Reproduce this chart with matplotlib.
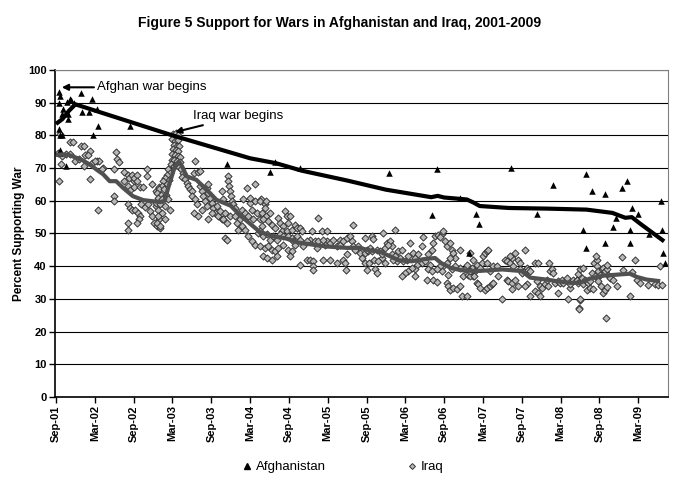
import matplotlib
matplotlib.use("Agg")
import matplotlib.pyplot as plt
from matplotlib.lines import Line2D

plt.rcParams['font.family'] = ['Liberation Sans', 'DejaVu Sans']

# x = months since Sep 2001, y = percent supporting war
tick_labels = ['Sep-01', 'Mar-02', 'Sep-02', 'Mar-03', 'Sep-03', 'Mar-04', 'Sep-04', 'Mar-05',
               'Sep-05', 'Mar-06', 'Sep-06', 'Mar-07', 'Sep-07', 'Mar-08', 'Sep-08', 'Mar-09']
tick_months = [0, 6, 12, 18, 24, 30, 36, 42, 48, 54, 60, 66, 72, 78, 84, 90]

# Afghanistan polls
afg_polls = [
    (0.4, 93.4), (0.6, 92.0), (0.5, 90.0), (1.65, 90.1), (1.1, 88.1), (1.0, 86.4), (1.9, 86.4),
    (1.9, 84.9), (0.5, 81.8), (0.7, 80.0), (0.9, 80.0), (0.6, 75.6), (0.6, 74.5), (1.5, 70.6),
    (2.2, 91.2), (2.4, 90.8), (2.8, 90.0), (3.8, 93.1), (4.1, 87.1), (5.1, 87.1), (5.6, 91.0),
    (5.8, 80.0), (6.4, 88.0), (6.5, 82.9), (11.4, 82.8), (26.5, 71.1),
    (33.8, 71.8), (33.1, 68.8), (37.7, 70.0), (51.4, 68.5), (58.9, 69.7), (58.2, 55.8),
    (62.4, 60.8), (65.0, 55.9), (65.4, 53.0), (63.8, 44.1), (70.3, 69.9), (74.4, 55.9),
    (76.9, 64.8), (81.9, 68.2), (81.5, 51.0), (82.0, 45.6), (82.8, 62.9), (84.9, 62.0),
    (84.9, 47.0), (86.6, 54.7), (86.1, 51.9), (87.5, 63.9), (88.2, 65.9), (88.7, 51.0),
    (88.7, 47.0), (89.1, 57.7), (90.0, 55.9), (91.6, 49.9), (93.5, 59.9), (93.7, 51.0),
    (93.8, 43.9), (94.2, 41.0),
]

afg_trend_m = [0, 1, 2, 3, 18, 30, 34, 38, 45, 51, 58, 59, 60, 63.5, 64.5, 65.5, 70, 76, 82, 86, 88, 89, 90.3, 94]
afg_trend_v = [83.5, 85, 87.5, 89.5, 80, 73, 71.5, 69.2, 66.2, 63.4, 61.1, 61.5, 61, 60.4, 59.5, 58.4,
               57.8, 57.6, 57.3, 56.3, 54.8, 55, 53, 47.6]

# Iraq polls, by period
iraq_2001_02 = [
    (0.3, 74.5), (0.6, 80.5), (1.0, 73.8), (1.5, 74.2), (5.2, 75.2), (6.3, 72.1), (6.6, 72.1), (7.3, 70.1),
    (0.5, 66.0), (0.8, 71.1), (2.2, 77.9), (2.7, 77.9), (3.8, 76.9), (4.4, 76.9), (2.2, 74.2), (3.0, 72.1),
    (3.5, 72.8), (4.5, 73.9), (4.3, 70.6), (5.0, 73.9), (5.6, 71.6), (6.1, 72.1), (5.2, 66.7), (7.1, 69.8),
    (8.9, 69.8), (9.3, 74.9), (9.5, 72.8), (9.7, 71.8), (10.5, 68.9), (10.5, 66.0), (8.9, 61.4), (8.9, 59.9),
    (6.5, 57.1), (11.1, 68.0), (11.3, 67.0), (11.7, 68.0), (12.0, 66.0), (12.1, 67.0), (12.5, 68.0),
    (12.6, 66.0), (11.1, 64.5), (11.4, 63.4), (12.0, 64.1), (13.0, 64.1), (13.5, 64.1), (14.1, 69.8),
    (14.1, 67.5), (14.8, 65.0), (15.4, 62.9), (15.9, 64.1), (11.1, 58.9), (11.4, 57.8), (11.8, 57.3),
    (12.2, 57.3), (12.7, 56.3), (13.0, 55.3), (12.9, 54.3), (12.5, 53.3), (11.2, 53.3), (11.1, 51.2),
    (13.2, 58.9), (13.8, 58.2), (14.2, 58.9), (14.5, 56.8), (14.8, 55.3), (15.1, 53.3), (15.6, 52.2),
    (15.9, 54.3), (16.1, 51.7), (15.4, 58.3), (15.9, 60.4), (16.1, 61.2),
]
iraq_2003 = [
    (18.13, 80.3), (18.49, 80.6), (18.80, 80.0), (17.98, 78.8), (18.39, 78.2), (18.91, 78.6), (18.29, 77.2),
    (18.70, 76.9), (19.01, 76.7), (18.13, 75.7), (18.54, 75.5), (18.91, 75.2), (17.98, 74.2), (18.39, 73.9),
    (18.80, 73.7), (19.16, 73.5), (17.88, 72.6), (18.29, 72.4), (18.70, 72.1), (19.11, 71.8), (17.77, 71.1),
    (18.18, 70.6), (18.59, 70.8), (19.01, 70.4),
    (17.36, 69.6), (17.62, 68.6), (17.11, 68.0), (16.85, 67.0), (17.46, 66.5), (16.59, 66.0), (17.11, 65.0),
    (16.33, 64.5), (15.92, 63.5), (16.74, 63.5), (15.56, 62.4), (16.23, 61.9), (16.95, 61.9), (15.82, 60.9),
    (16.44, 60.4), (17.36, 60.4), (15.46, 59.4), (16.07, 58.9), (16.85, 58.3), (17.62, 57.3), (15.71, 57.3),
    (16.33, 56.3), (15.56, 53.3), (16.07, 52.2), (16.85, 54.3), (15.82, 55.3),
    (19.32, 69.6), (19.68, 68.6), (19.42, 67.3), (19.94, 66.7), (20.20, 65.5), (20.45, 64.5), (20.71, 63.5),
    (20.97, 63.0), (21.48, 72.1), (21.38, 68.6), (21.90, 68.8), (22.25, 69.1),
    (20.97, 61.4), (21.48, 60.4), (21.74, 58.9), (22.25, 64.5), (22.51, 63.0), (22.77, 61.4), (23.03, 59.9),
    (23.28, 64.0), (23.54, 62.4), (23.80, 60.9), (24.06, 59.4), (23.54, 65.0), (24.32, 57.8), (24.57, 56.3),
    (24.83, 58.3), (25.09, 55.3), (25.35, 56.8), (25.60, 54.3), (23.54, 54.3), (24.06, 56.3), (21.38, 56.3),
    (21.90, 55.3), (22.51, 57.3), (23.28, 58.3),
]
iraq_2003_04 = [
    (26.63, 67.5), (26.63, 66.0), (26.74, 64.5), (26.89, 63.0), (27.05, 61.4), (27.15, 59.9), (27.41, 58.9),
    (27.67, 57.8), (26.12, 56.3), (25.86, 54.3), (26.38, 53.3), (26.89, 55.3), (27.67, 55.3), (27.92, 53.3),
    (28.18, 51.2), (25.60, 63.0), (25.86, 60.4), (26.12, 48.7), (26.38, 48.1),
    (29.47, 64.0), (30.76, 65.0), (28.80, 57.3), (29.21, 56.3), (29.73, 55.3), (30.24, 57.3), (30.50, 54.3),
    (31.01, 56.3), (31.53, 54.3), (31.79, 52.2), (32.05, 55.3), (28.70, 52.2), (29.21, 51.2), (29.73, 49.2),
    (30.24, 47.6), (30.76, 46.6), (31.27, 50.2), (28.44, 54.3), (28.95, 60.4), (29.98, 59.4), (30.76, 59.9),
    (31.68, 60.4), (32.30, 58.9), (29.98, 60.9),
]
iraq_2004_05 = [
    (31.53, 59.9), (32.46, 59.9), (32.30, 57.8), (31.79, 56.3), (32.46, 55.3), (33.08, 56.3), (32.82, 53.8),
    (32.05, 54.3), (33.33, 52.7), (33.85, 51.7), (34.36, 54.8), (34.62, 53.2), (35.39, 56.8), (35.65, 55.3),
    (36.17, 55.3), (35.91, 53.2), (35.14, 52.2), (34.88, 50.7), (35.65, 50.7), (36.42, 51.2), (36.94, 52.7),
    (37.20, 51.7), (37.72, 51.7), (37.97, 50.7), (31.53, 50.7), (32.05, 49.2), (32.56, 49.7), (33.08, 48.1),
    (33.59, 49.2), (34.11, 48.1), (34.62, 49.7), (35.14, 49.2), (35.91, 49.2), (36.42, 48.7), (36.68, 47.6),
    (37.20, 49.2), (37.72, 48.1), (31.53, 46.1), (32.30, 45.6), (32.82, 46.1), (33.33, 45.1), (33.85, 44.6),
    (34.36, 45.6), (35.14, 46.6), (35.91, 45.1), (36.42, 44.6), (36.94, 46.6), (32.05, 43.0), (32.56, 42.5),
    (33.33, 42.0), (34.11, 43.0), (36.17, 43.0), (37.72, 40.5), (38.75, 42.0), (39.26, 41.8), (39.67, 41.5),
    (39.78, 40.0), (39.78, 38.9), (39.52, 50.7), (39.26, 48.1), (40.04, 47.6), (40.55, 47.6), (40.29, 45.6),
    (41.32, 42.0), (40.55, 54.8), (41.06, 50.7), (41.84, 50.7), (41.84, 47.6), (42.36, 47.1), (42.87, 48.1),
    (43.39, 46.1), (43.90, 48.1), (43.90, 46.6), (44.42, 47.6), (44.93, 48.7), (45.45, 49.2), (45.70, 47.6),
    (45.96, 46.1), (46.22, 45.1), (46.73, 46.1), (46.99, 44.1), (47.25, 42.5), (47.76, 44.1), (48.02, 38.9),
    (48.28, 44.6), (48.54, 45.6), (45.96, 52.7), (44.93, 43.6), (44.42, 42.0), (44.67, 41.0), (44.83, 38.9),
    (43.39, 41.0), (42.36, 42.0), (41.58, 46.6), (38.23, 46.1), (38.75, 47.6), (41.32, 48.1),
]
iraq_2005_07 = [
    (47.76, 48.7), (48.79, 49.2), (49.05, 48.2), (50.59, 50.2), (52.40, 51.0), (51.11, 47.1), (51.62, 47.6),
    (51.88, 46.1), (50.85, 45.6), (51.37, 46.6), (48.02, 45.1), (48.79, 44.6), (49.56, 45.1), (50.08, 44.6),
    (50.33, 42.5), (50.85, 41.0), (47.76, 41.0), (48.38, 41.0), (49.20, 42.0), (49.82, 41.5), (49.30, 39.0),
    (49.56, 37.9), (50.33, 43.6), (51.88, 43.6), (52.40, 43.0), (52.91, 44.6), (53.43, 45.1), (53.17, 42.5),
    (52.65, 41.5), (52.14, 42.0), (53.68, 41.5), (54.20, 42.0), (54.46, 43.0), (54.71, 47.1), (55.23, 44.1),
    (55.49, 42.5), (56.00, 43.6), (56.52, 46.1), (56.77, 49.0), (56.52, 41.0), (57.03, 41.5), (57.55, 43.6),
    (58.07, 45.1), (58.32, 47.1), (58.58, 49.2), (59.10, 49.4), (59.61, 49.7), (59.87, 50.7), (59.35, 49.0),
    (60.13, 47.6), (60.38, 46.1), (60.90, 47.1), (61.16, 45.1), (61.41, 44.1), (62.45, 45.1), (61.67, 42.5),
    (60.90, 42.5), (60.38, 41.0), (59.87, 40.0), (59.61, 38.5), (59.35, 40.0), (58.84, 39.0), (57.80, 40.5),
    (57.55, 39.0), (58.07, 38.5), (55.74, 40.5), (55.49, 39.0), (54.97, 39.5), (54.46, 38.5), (53.94, 37.9),
    (53.43, 36.9), (55.49, 36.9), (57.29, 35.9), (58.32, 35.9), (58.84, 35.1), (60.38, 34.9), (60.64, 33.9),
    (60.90, 32.8), (61.41, 33.4), (61.93, 33.0), (62.45, 33.9), (62.70, 30.8), (63.47, 30.8), (62.96, 36.9),
    (63.22, 39.0), (63.73, 37.4), (64.25, 39.5), (64.50, 36.9), (63.47, 40.5), (62.45, 39.5), (61.67, 40.0),
    (61.16, 39.0), (60.64, 37.4),
]
iraq_2007_08 = [
    (63.99, 44.1), (64.50, 42.0), (65.02, 40.5), (66.05, 43.0), (66.30, 44.1), (66.56, 44.6), (66.82, 45.1),
    (65.79, 41.0), (66.56, 41.0), (65.53, 39.5), (64.76, 38.5), (63.99, 36.9), (64.60, 36.9), (65.02, 34.9),
    (65.27, 34.4), (65.53, 33.4), (66.30, 32.8), (66.56, 33.4), (67.08, 33.9), (67.33, 34.4), (67.59, 34.9),
    (67.59, 40.0), (68.11, 40.0), (68.37, 36.9), (68.88, 30.0), (69.40, 42.0), (69.66, 41.5), (70.17, 41.0),
    (70.43, 42.5), (70.17, 43.0), (70.95, 44.1), (71.46, 42.0), (71.72, 41.0), (70.69, 40.0), (69.66, 35.9),
    (69.92, 35.4), (70.43, 34.9), (70.43, 33.0), (70.95, 35.9), (71.46, 33.9), (71.72, 39.0), (71.98, 37.9),
    (72.49, 38.5), (72.75, 39.5), (73.01, 38.8), (73.26, 38.5), (72.75, 34.4), (72.49, 33.9), (73.26, 30.8),
    (74.04, 32.3), (74.04, 41.0), (74.55, 41.0), (74.29, 35.4), (74.55, 31.8), (74.81, 30.8), (74.81, 33.9),
    (75.07, 33.4), (75.58, 34.4), (76.10, 33.9), (75.84, 35.9), (76.36, 38.5), (76.61, 39.0), (76.87, 37.9),
    (76.20, 41.0), (77.13, 34.9), (77.64, 35.4), (77.64, 31.8), (77.90, 34.9), (78.16, 35.9), (78.42, 34.9),
    (78.93, 36.4), (79.45, 33.4), (79.19, 30.0), (79.96, 35.9), (80.48, 35.9), (80.74, 37.7), (81.00, 29.8),
    (80.89, 27.2), (72.49, 45.1), (63.99, 38.5), (67.08, 38.5),
]
iraq_2008_09 = [
    (79.44, 34.4), (80.48, 35.9), (80.74, 34.9), (80.99, 39.0), (81.51, 39.5), (81.25, 36.4), (81.51, 34.4),
    (81.77, 35.9), (82.02, 32.8), (82.28, 34.9), (82.54, 33.4), (82.80, 37.9), (83.06, 33.0), (83.31, 36.9),
    (83.16, 41.0), (83.57, 42.0), (83.47, 43.0), (83.67, 40.0), (83.83, 38.5), (84.09, 37.4), (84.34, 39.0),
    (84.60, 39.5), (84.86, 38.5), (85.12, 39.0), (85.12, 40.5), (85.37, 37.4), (84.19, 33.9), (84.60, 31.8),
    (84.86, 32.8), (85.12, 33.7), (85.63, 36.4), (86.15, 35.9), (86.66, 33.9), (87.44, 42.8), (87.69, 38.8),
    (88.98, 38.2), (89.50, 41.8), (88.73, 30.8), (89.76, 35.9), (90.27, 34.9), (91.56, 34.1), (92.59, 34.7),
    (93.11, 34.1), (93.37, 40.0), (93.62, 34.1), (80.99, 30.0), (80.89, 26.9), (85.02, 24.2), (82.54, 35.4),
    (83.83, 35.4),
]

iraq_trend_m = [0, 1, 2, 2.7, 4, 5.3, 6.3, 7.3, 8.3, 9.3, 10.4, 11.9, 13.5, 16.1, 16.8, 17.5, 18.3, 19, 19.5,
                20.2, 21.7, 23.3, 24.8, 27, 28.5, 30, 31.5, 33.5, 35.5, 37.5, 40, 42, 45, 47, 48.5, 50, 51, 53,
                55, 57, 58.6, 59.5, 61, 62.5, 65, 69, 72, 73.3, 75.8, 77.5, 79.5, 81, 82.5, 84.6, 88.7, 89.8,
                91.3, 93.4]
iraq_trend_v = [74, 74.2, 74, 73.5, 72.5, 71, 69.5, 68.1, 66, 66, 63.9, 61.4, 60.2, 59.6, 60, 65, 70, 72, 70.5,
                67.5, 66.4, 63.4, 60.3, 58.5, 55.5, 53, 50.5, 49.2, 48.5, 47.2, 46.5, 46, 45.6, 45.6, 44.8, 44.5,
                43.6, 41.8, 41.5, 42.2, 42.5, 41, 39.5, 38.8, 38.5, 39, 38.5, 36.5, 35.9, 35.4, 34.9, 34.9, 36.2,
                37.1, 37.7, 36.7, 35.9, 35.4]

iraq_polls = iraq_2001_02 + iraq_2003 + iraq_2003_04 + iraq_2004_05 + iraq_2005_07 + iraq_2007_08 + iraq_2008_09

fig = plt.figure(figsize=(6.84, 4.88), dpi=100)
ax = fig.add_axes([0.0804, 0.1865, 0.8962, 0.6701])

ax.scatter([p[0] for p in iraq_polls], [p[1] for p in iraq_polls], marker='D', s=13,
           facecolor='#b8b8b8', edgecolor='#333333', linewidths=0.7, zorder=2)
ax.scatter([p[0] for p in afg_polls], [p[1] for p in afg_polls], marker='^', s=22,
           color='black', linewidths=0, zorder=2)
ax.plot(iraq_trend_m, iraq_trend_v, color='#505050', lw=3, zorder=3, solid_capstyle='butt')
ax.plot(afg_trend_m, afg_trend_v, color='black', lw=3, zorder=3, solid_capstyle='butt')

ax.set_xlim(-0.15, 94.6)
ax.set_ylim(0, 100)
ax.set_yticks(range(0, 101, 10))
ax.yaxis.grid(True, color='black', lw=0.8)
ax.set_axisbelow(True)
ax.set_xticks(tick_months)
ax.set_xticklabels(tick_labels, rotation=90, fontweight='bold', fontsize=8)
for lab in ax.get_yticklabels():
    lab.set_fontweight('bold')
    lab.set_fontsize(8)
ax.tick_params(direction='out', length=4, width=1, color='black', pad=2)
for s in ['top', 'right']:
    ax.spines[s].set_color('#808080')
for s in ['left', 'bottom']:
    ax.spines[s].set_color('black')
    ax.spines[s].set_linewidth(1.2)

ax.set_ylabel('Percent Supporting War', fontweight='bold', fontsize=8.5, labelpad=2)

ax.annotate('Afghan war begins', xy=(0.9, 94.7), xytext=(6.3, 94.7), fontsize=9.5, va='center', ha='left',
            arrowprops=dict(arrowstyle='-|>', color='black', lw=1.5, mutation_scale=9, shrinkA=0, shrinkB=0))
ax.annotate('Iraq war begins', xy=(18.4, 81.0), xytext=(21.2, 85.8), fontsize=9.5, va='center', ha='left',
            arrowprops=dict(arrowstyle='-|>', color='black', lw=1.5, mutation_scale=9, shrinkA=0, shrinkB=0))

fig.text(0.497, 0.952, 'Figure 5 Support for Wars in Afghanistan and Iraq, 2001-2009',
         ha='center', va='center', fontsize=10, fontweight='bold')

handles = [Line2D([], [], marker='^', color='black', ls='none', markersize=4),
           Line2D([], [], marker='D', markerfacecolor='#b8b8b8', markeredgecolor='#333333', ls='none',
                  markersize=3, markeredgewidth=0.7)]
fig.legend(handles, ['Afghanistan', 'Iraq'], loc='center', bbox_to_anchor=(0.5, 0.043), ncol=2,
           frameon=False, fontsize=9.5, columnspacing=6, handletextpad=0.2, handlelength=1)

fig.savefig('out.png', dpi=100)
